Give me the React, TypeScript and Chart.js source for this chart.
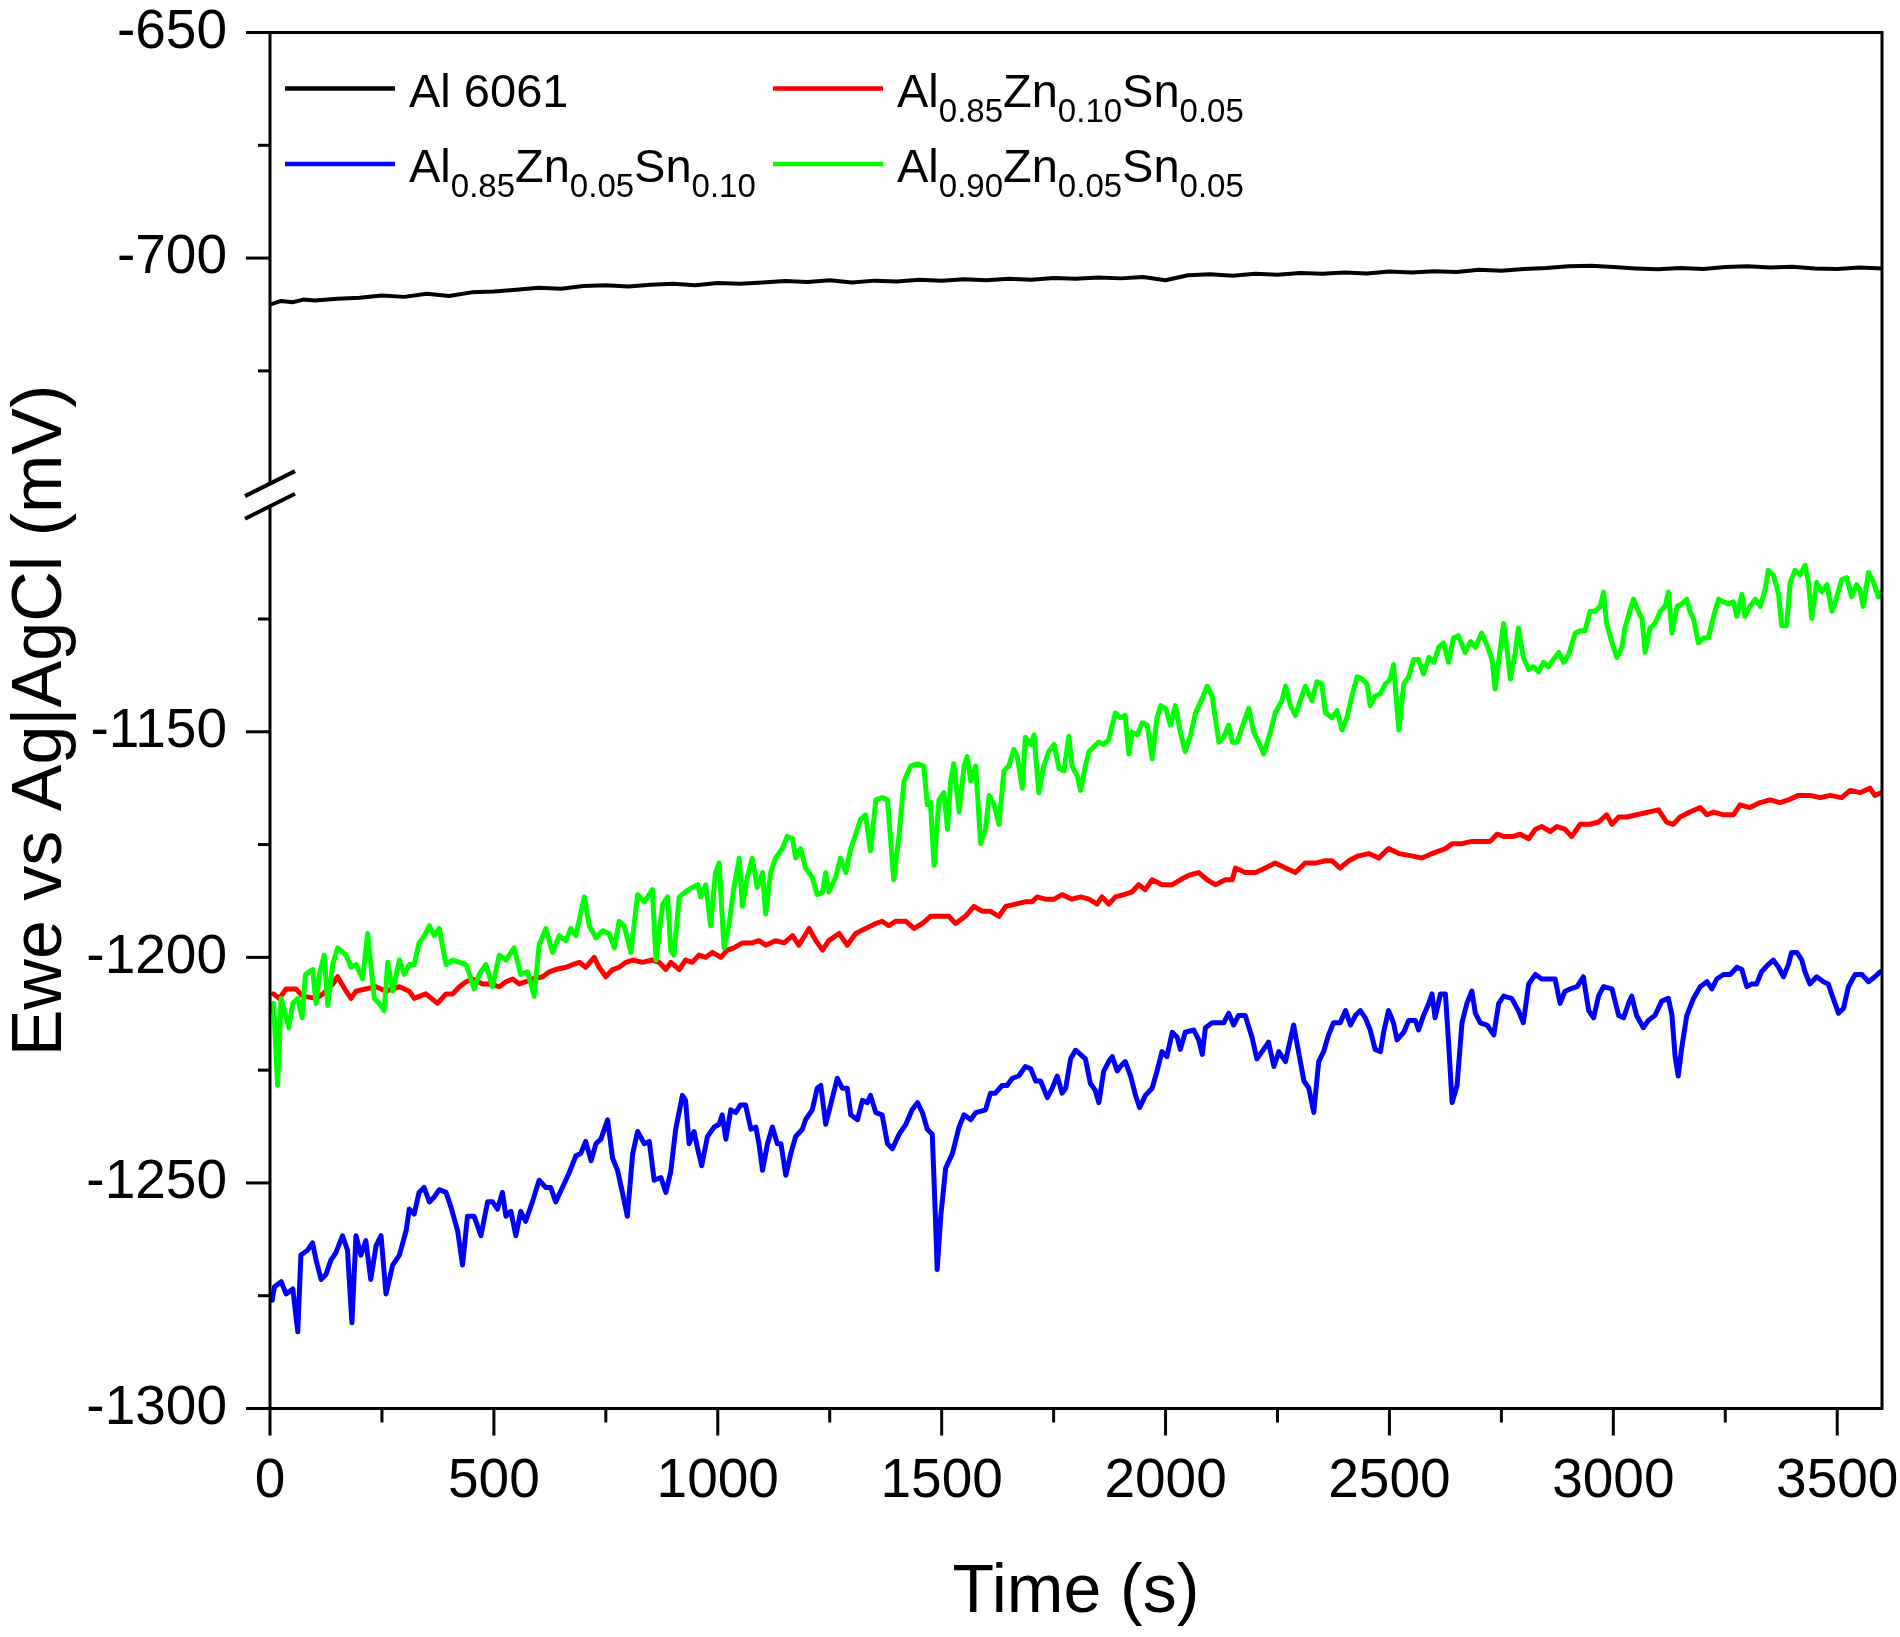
import React, { useEffect, useRef } from "react";
import { Chart, registerables } from "chart.js";

Chart.register(...registerables);

const FONT = "'Liberation Sans', Arial, Helvetica, sans-serif";

// ---- broken y axis: upper segment -650..-750, lower segment -1100..-1300
const UPPER_MIN = -750;
const LOWER_MAX = -1100;
const SHIFT = 345; // lower values shifted up so that -1100 sits just below -750 (small gap)
const toAxis = (v: number) => (v <= LOWER_MAX ? v + SHIFT : v);
const fromAxis = (a: number) => (a < UPPER_MIN ? a - SHIFT : a);

const yMajorTicks = [-650, -700, -1150, -1200, -1250, -1300];
const yMinorTicks = [-675, -725, -1125, -1175, -1225, -1275];
const xMajorTicks = [0, 500, 1000, 1500, 2000, 2500, 3000, 3500];
const xMinorTicks = [250, 750, 1250, 1750, 2250, 2750, 3250];
const X_MIN = 0;
const X_MAX = 3600;
const Y_AXIS_MIN = -1300;
const Y_AXIS_MAX = -650;

const xTitle = "Time (s)";
const yTitle = "Ewe vs Ag|AgCl (mV)";

// legend labels as [text, isSubscript] parts
const labelAl6061: [string, boolean][] = [["Al 6061", false]];
const labelRed: [string, boolean][] = [["Al", false], ["0.85", true], ["Zn", false], ["0.10", true], ["Sn", false], ["0.05", true]];
const labelBlue: [string, boolean][] = [["Al", false], ["0.85", true], ["Zn", false], ["0.05", true], ["Sn", false], ["0.10", true]];
const labelGreen: [string, boolean][] = [["Al", false], ["0.90", true], ["Zn", false], ["0.05", true], ["Sn", false], ["0.05", true]];

// ---- data: [time (s), potential (mV)]
const blackPoints: [number, number][] = [
  [0, -710.3], [25, -709.5], [50, -709.8], [75, -709.2], [100, -709.4], [150, -709.0], [200, -708.8], [250, -708.3], [300, -708.6], [350, -707.9],
  [400, -708.4], [450, -707.6], [500, -707.4], [550, -707.0], [600, -706.6], [650, -706.8], [700, -706.2], [750, -706.0], [800, -706.3], [850, -705.9],
  [900, -705.7], [950, -706.0], [1000, -705.5], [1050, -705.7], [1100, -705.4], [1150, -705.1], [1200, -705.3], [1250, -704.9], [1300, -705.4], [1350, -705.0],
  [1400, -705.2], [1450, -704.8], [1500, -705.0], [1550, -704.7], [1600, -704.9], [1650, -704.6], [1700, -704.8], [1750, -704.4], [1800, -704.6], [1850, -704.3],
  [1900, -704.5], [1950, -704.2], [2000, -704.9], [2050, -703.8], [2100, -703.6], [2150, -703.9], [2200, -703.5], [2250, -703.7], [2300, -703.3], [2350, -703.5],
  [2400, -703.2], [2450, -703.4], [2500, -703.0], [2550, -703.2], [2600, -702.9], [2650, -703.1], [2700, -702.6], [2750, -702.8], [2800, -702.4], [2850, -702.2],
  [2900, -701.8], [2950, -701.7], [3000, -702.0], [3050, -702.3], [3100, -702.5], [3150, -702.2], [3200, -702.4], [3250, -702.0], [3300, -701.8], [3350, -702.1],
  [3400, -701.9], [3450, -702.3], [3500, -702.4], [3550, -702.1], [3600, -702.3],
];

const redPoints: [number, number][] = [
  [8, -1208.1], [21, -1209.1], [36, -1207.0], [58, -1207.0], [73, -1208.6], [103, -1209.1], [118, -1208.1], [140, -1205.9], [151, -1204.3], [170, -1207.5],
  [181, -1209.1], [192, -1207.5], [214, -1207.0], [237, -1206.5], [259, -1207.5], [289, -1206.5], [311, -1207.5], [322, -1209.1], [348, -1208.1], [374, -1210.2],
  [393, -1208.1], [408, -1208.1], [423, -1206.5], [438, -1205.4], [452, -1204.8], [475, -1205.9], [490, -1205.9], [512, -1206.5], [527, -1205.4], [542, -1204.8],
  [557, -1205.9], [571, -1205.4], [586, -1204.8], [609, -1204.3], [624, -1203.2], [638, -1202.7], [661, -1202.2], [676, -1201.6], [691, -1201.1], [705, -1202.2],
  [724, -1200.0], [735, -1202.2], [750, -1204.3], [765, -1202.7], [780, -1202.2], [795, -1201.1], [810, -1200.6], [832, -1201.1], [854, -1200.6], [869, -1201.1],
  [884, -1202.7], [895, -1201.1], [914, -1202.7], [928, -1200.6], [943, -1201.1], [958, -1199.5], [973, -1200.0], [988, -1198.9], [1007, -1200.0], [1021, -1198.4],
  [1036, -1197.9], [1055, -1196.8], [1077, -1196.8], [1092, -1196.3], [1107, -1197.3], [1129, -1196.3], [1148, -1196.8], [1167, -1195.2], [1181, -1197.3], [1204, -1193.6],
  [1219, -1196.3], [1234, -1198.4], [1248, -1196.3], [1271, -1194.7], [1289, -1197.3], [1308, -1194.7], [1330, -1193.6], [1353, -1192.5], [1367, -1192.0], [1382, -1193.0],
  [1397, -1192.0], [1420, -1192.0], [1438, -1193.6], [1457, -1192.5], [1475, -1190.9], [1494, -1190.9], [1516, -1190.9], [1531, -1192.5], [1553, -1190.9], [1572, -1188.7],
  [1591, -1189.8], [1609, -1189.8], [1628, -1190.9], [1643, -1188.7], [1665, -1188.2], [1687, -1187.7], [1702, -1187.7], [1713, -1186.6], [1732, -1187.1], [1751, -1187.1],
  [1769, -1186.1], [1791, -1187.1], [1810, -1186.6], [1829, -1187.1], [1847, -1188.2], [1858, -1186.6], [1873, -1188.2], [1888, -1186.6], [1907, -1186.1], [1925, -1185.5],
  [1940, -1183.9], [1955, -1185.0], [1970, -1182.8], [1992, -1183.9], [2015, -1183.9], [2033, -1182.8], [2052, -1181.8], [2074, -1181.2], [2093, -1182.8], [2111, -1183.9],
  [2134, -1182.8], [2149, -1182.8], [2156, -1180.2], [2178, -1181.2], [2201, -1181.2], [2223, -1180.2], [2245, -1179.1], [2268, -1180.2], [2290, -1181.2], [2312, -1179.1],
  [2335, -1179.1], [2357, -1178.6], [2372, -1178.6], [2390, -1180.2], [2409, -1178.6], [2431, -1177.5], [2454, -1177.0], [2476, -1178.0], [2498, -1175.9], [2521, -1177.0],
  [2550, -1177.5], [2573, -1178.0], [2595, -1177.0], [2625, -1175.9], [2640, -1174.8], [2662, -1174.8], [2684, -1174.3], [2703, -1174.3], [2725, -1174.3], [2740, -1172.7],
  [2755, -1173.2], [2777, -1173.2], [2792, -1172.7], [2811, -1173.7], [2826, -1171.6], [2840, -1171.0], [2859, -1172.1], [2874, -1171.0], [2892, -1171.6], [2907, -1173.2],
  [2926, -1170.5], [2948, -1170.5], [2967, -1170.0], [2985, -1168.4], [2997, -1170.5], [3012, -1168.9], [3030, -1168.9], [3052, -1168.4], [3078, -1167.8], [3101, -1167.3],
  [3119, -1170.0], [3134, -1170.5], [3149, -1168.9], [3171, -1167.8], [3194, -1166.8], [3209, -1168.4], [3224, -1167.8], [3246, -1168.4], [3268, -1168.4], [3283, -1166.2],
  [3305, -1166.8], [3328, -1165.7], [3350, -1165.1], [3372, -1165.7], [3391, -1165.1], [3413, -1164.1], [3439, -1164.1], [3462, -1164.6], [3484, -1164.1], [3510, -1164.6],
  [3529, -1163.0], [3551, -1163.5], [3573, -1162.5], [3584, -1164.1], [3598, -1163.5],
];

const bluePoints: [number, number][] = [
  [5, -1276.0], [10, -1273.0], [25, -1271.9], [36, -1274.6], [51, -1273.5], [62, -1283.0], [69, -1266.0], [84, -1264.9], [95, -1263.3], [103, -1267.1],
  [114, -1271.4], [125, -1270.3], [136, -1267.1], [147, -1265.5], [162, -1261.7], [173, -1264.9], [183, -1281.0], [192, -1261.7], [203, -1266.0], [214, -1262.8],
  [225, -1271.4], [237, -1263.9], [248, -1261.7], [259, -1274.6], [274, -1268.2], [289, -1266.0], [304, -1260.6], [311, -1255.8], [322, -1256.9], [333, -1252.1],
  [344, -1251.0], [356, -1254.2], [367, -1253.1], [378, -1251.5], [393, -1252.1], [404, -1255.3], [419, -1260.6], [430, -1268.2], [441, -1257.4], [456, -1257.4],
  [471, -1261.7], [486, -1254.2], [497, -1254.2], [508, -1255.8], [519, -1252.1], [527, -1257.4], [538, -1256.3], [549, -1261.7], [560, -1256.3], [571, -1258.5],
  [586, -1254.2], [601, -1249.4], [616, -1251.0], [627, -1251.0], [638, -1254.2], [653, -1251.0], [668, -1247.8], [683, -1244.0], [694, -1243.5], [705, -1240.8],
  [717, -1245.1], [728, -1241.3], [739, -1240.3], [754, -1236.0], [765, -1244.5], [776, -1247.2], [787, -1252.1], [798, -1257.4], [810, -1243.5], [821, -1238.6],
  [836, -1241.3], [847, -1240.8], [858, -1249.4], [873, -1248.8], [884, -1252.1], [895, -1247.5], [906, -1238.1], [921, -1230.6], [928, -1231.7], [936, -1241.3],
  [947, -1238.6], [955, -1242.4], [964, -1246.2], [977, -1239.7], [992, -1237.6], [1003, -1237.0], [1010, -1234.9], [1018, -1240.3], [1029, -1233.8], [1040, -1234.4],
  [1051, -1232.7], [1062, -1232.7], [1074, -1238.1], [1085, -1237.6], [1092, -1241.3], [1100, -1247.2], [1111, -1241.3], [1122, -1237.6], [1133, -1241.3], [1141, -1241.3],
  [1152, -1248.3], [1163, -1243.5], [1174, -1239.7], [1189, -1238.1], [1196, -1236.0], [1211, -1233.8], [1222, -1229.0], [1230, -1228.4], [1241, -1237.0], [1252, -1232.7],
  [1267, -1226.8], [1278, -1229.0], [1289, -1229.0], [1297, -1234.9], [1312, -1236.0], [1323, -1231.7], [1334, -1232.2], [1341, -1230.6], [1353, -1234.4], [1367, -1234.9],
  [1379, -1241.3], [1390, -1242.4], [1405, -1239.2], [1420, -1237.0], [1434, -1233.8], [1446, -1232.2], [1457, -1234.4], [1468, -1238.1], [1479, -1239.2], [1486, -1257.4],
  [1490, -1269.2], [1498, -1257.4], [1509, -1246.7], [1524, -1243.5], [1539, -1237.6], [1550, -1234.9], [1565, -1236.0], [1576, -1234.4], [1598, -1233.8], [1609, -1230.1],
  [1620, -1230.1], [1635, -1228.4], [1646, -1228.4], [1658, -1226.8], [1672, -1226.3], [1687, -1224.2], [1699, -1224.7], [1710, -1227.4], [1721, -1227.4], [1736, -1231.1],
  [1747, -1229.0], [1758, -1226.3], [1769, -1230.1], [1777, -1229.0], [1788, -1222.5], [1799, -1220.6], [1810, -1221.5], [1821, -1222.5], [1832, -1227.9], [1843, -1229.5],
  [1851, -1232.2], [1862, -1225.2], [1873, -1223.1], [1881, -1222.0], [1892, -1225.2], [1899, -1224.2], [1910, -1223.1], [1922, -1226.3], [1933, -1230.6], [1942, -1233.3],
  [1955, -1230.6], [1970, -1229.0], [1981, -1225.2], [1992, -1220.9], [2003, -1222.0], [2015, -1216.6], [2026, -1217.7], [2033, -1220.4], [2044, -1216.6], [2063, -1216.1],
  [2074, -1218.3], [2082, -1221.5], [2089, -1215.6], [2104, -1214.5], [2119, -1214.5], [2130, -1214.5], [2141, -1212.4], [2152, -1215.0], [2163, -1212.9], [2178, -1212.9],
  [2193, -1217.7], [2204, -1222.5], [2219, -1220.4], [2230, -1218.8], [2242, -1224.2], [2253, -1220.9], [2268, -1223.1], [2275, -1219.9], [2286, -1215.0], [2297, -1220.9],
  [2309, -1227.4], [2320, -1229.0], [2331, -1234.4], [2342, -1223.1], [2353, -1220.9], [2364, -1217.2], [2375, -1214.5], [2390, -1214.5], [2402, -1211.8], [2413, -1215.0],
  [2424, -1212.9], [2435, -1211.8], [2446, -1213.4], [2457, -1216.1], [2468, -1220.4], [2480, -1220.9], [2487, -1216.6], [2498, -1211.8], [2509, -1214.5], [2517, -1218.3],
  [2532, -1216.6], [2543, -1214.0], [2558, -1214.0], [2565, -1216.1], [2576, -1212.9], [2588, -1210.2], [2595, -1208.1], [2602, -1213.4], [2614, -1208.1], [2625, -1208.1],
  [2632, -1218.8], [2640, -1232.2], [2651, -1228.4], [2662, -1214.5], [2673, -1210.2], [2684, -1207.5], [2692, -1212.4], [2703, -1214.5], [2718, -1215.0], [2733, -1217.2],
  [2744, -1210.2], [2755, -1208.6], [2773, -1209.1], [2788, -1211.8], [2799, -1214.5], [2811, -1205.9], [2826, -1203.8], [2840, -1204.8], [2859, -1204.8], [2870, -1204.8],
  [2881, -1210.2], [2892, -1207.5], [2904, -1207.0], [2919, -1206.5], [2933, -1204.3], [2945, -1211.8], [2956, -1213.4], [2967, -1208.6], [2978, -1206.5], [2997, -1207.0],
  [3012, -1212.9], [3023, -1213.4], [3034, -1210.2], [3041, -1208.6], [3052, -1212.9], [3067, -1215.6], [3078, -1214.0], [3093, -1212.9], [3108, -1209.7], [3123, -1209.1],
  [3131, -1212.9], [3138, -1222.0], [3145, -1226.3], [3153, -1219.9], [3164, -1212.9], [3179, -1209.1], [3194, -1206.5], [3209, -1205.4], [3220, -1207.0], [3231, -1204.8],
  [3246, -1203.8], [3261, -1203.8], [3276, -1202.2], [3287, -1202.7], [3298, -1206.5], [3309, -1205.9], [3320, -1205.9], [3331, -1203.2], [3346, -1201.6], [3357, -1200.6],
  [3369, -1202.2], [3380, -1204.3], [3391, -1201.6], [3398, -1198.9], [3410, -1198.9], [3421, -1200.6], [3428, -1203.2], [3439, -1205.9], [3454, -1204.3], [3469, -1205.4],
  [3480, -1205.9], [3491, -1209.1], [3503, -1212.4], [3514, -1211.3], [3525, -1206.5], [3540, -1203.8], [3555, -1203.8], [3570, -1205.4], [3584, -1204.3], [3596, -1203.2],
];

const greenPoints: [number, number][] = [
  [5, -1212.0], [8, -1210.2], [17, -1228.4], [25, -1209.1], [42, -1215.6], [51, -1210.2], [62, -1209.1], [72, -1213.4], [79, -1203.8], [95, -1202.7],
  [103, -1210.2], [110, -1203.8], [121, -1199.5], [129, -1210.7], [140, -1201.6], [151, -1197.9], [170, -1199.5], [181, -1202.2], [192, -1201.6], [207, -1204.8],
  [218, -1194.7], [233, -1209.1], [244, -1210.2], [255, -1211.8], [263, -1201.1], [274, -1207.5], [289, -1200.6], [300, -1203.8], [311, -1201.6], [322, -1201.6],
  [333, -1196.8], [345, -1195.2], [356, -1193.0], [367, -1195.2], [378, -1193.6], [393, -1201.6], [408, -1200.6], [423, -1201.1], [438, -1201.6], [456, -1207.0],
  [467, -1203.8], [482, -1201.6], [497, -1206.5], [512, -1199.5], [527, -1200.6], [545, -1197.9], [560, -1203.8], [575, -1203.2], [590, -1208.6], [601, -1197.3],
  [616, -1193.6], [631, -1198.9], [646, -1195.2], [661, -1196.3], [672, -1193.6], [683, -1195.2], [702, -1186.6], [713, -1193.0], [728, -1195.7], [743, -1194.1],
  [757, -1194.7], [769, -1197.9], [780, -1192.0], [791, -1193.0], [806, -1198.9], [821, -1186.1], [836, -1187.7], [854, -1185.0], [862, -1200.6], [877, -1188.2],
  [888, -1186.6], [895, -1198.4], [902, -1199.5], [914, -1186.6], [928, -1185.5], [943, -1184.5], [955, -1183.9], [962, -1186.6], [973, -1183.9], [984, -1193.0],
  [995, -1181.2], [1003, -1179.1], [1014, -1197.9], [1025, -1193.0], [1036, -1184.5], [1048, -1178.0], [1055, -1188.7], [1066, -1182.3], [1077, -1178.0], [1088, -1184.5],
  [1100, -1181.2], [1107, -1190.4], [1118, -1181.2], [1129, -1178.0], [1144, -1175.9], [1155, -1173.2], [1167, -1173.7], [1174, -1178.0], [1185, -1175.9], [1196, -1180.2],
  [1211, -1182.3], [1222, -1186.1], [1234, -1185.5], [1241, -1181.2], [1248, -1185.5], [1263, -1182.3], [1274, -1178.0], [1286, -1181.2], [1297, -1175.9], [1308, -1172.7],
  [1319, -1169.4], [1330, -1168.4], [1341, -1176.4], [1353, -1165.1], [1367, -1164.6], [1379, -1165.1], [1393, -1182.8], [1405, -1172.7], [1416, -1160.9], [1431, -1157.6],
  [1446, -1157.1], [1460, -1157.6], [1468, -1166.2], [1475, -1165.7], [1483, -1179.6], [1494, -1165.1], [1505, -1163.5], [1513, -1171.6], [1520, -1160.9], [1527, -1157.1],
  [1539, -1167.8], [1550, -1157.6], [1557, -1155.5], [1565, -1160.9], [1576, -1157.6], [1587, -1174.8], [1598, -1171.6], [1606, -1164.1], [1617, -1166.2], [1628, -1170.5],
  [1639, -1158.7], [1650, -1157.6], [1661, -1153.9], [1669, -1155.5], [1680, -1162.5], [1687, -1151.2], [1699, -1152.8], [1706, -1150.7], [1717, -1163.5], [1728, -1157.6],
  [1739, -1154.4], [1751, -1152.8], [1762, -1158.1], [1773, -1158.7], [1784, -1151.0], [1791, -1157.6], [1803, -1159.8], [1810, -1163.0], [1821, -1157.6], [1829, -1154.4],
  [1840, -1153.3], [1851, -1152.3], [1862, -1152.8], [1873, -1151.7], [1888, -1145.8], [1899, -1146.9], [1910, -1146.4], [1918, -1154.9], [1925, -1150.1], [1937, -1150.7],
  [1948, -1148.0], [1959, -1148.5], [1970, -1156.0], [1981, -1146.9], [1989, -1144.2], [2000, -1144.8], [2011, -1148.5], [2022, -1144.2], [2033, -1150.1], [2044, -1154.4],
  [2056, -1150.7], [2067, -1145.8], [2082, -1142.6], [2093, -1139.9], [2104, -1142.1], [2119, -1152.3], [2130, -1151.2], [2141, -1148.5], [2149, -1152.3], [2160, -1152.3],
  [2171, -1149.0], [2186, -1144.8], [2197, -1150.1], [2208, -1152.3], [2219, -1154.9], [2234, -1150.1], [2245, -1145.8], [2260, -1143.1], [2268, -1139.9], [2279, -1144.2],
  [2290, -1146.4], [2301, -1143.1], [2312, -1139.9], [2327, -1143.1], [2338, -1138.9], [2349, -1139.4], [2357, -1145.8], [2372, -1146.9], [2383, -1145.3], [2394, -1149.6],
  [2405, -1146.9], [2416, -1142.1], [2428, -1137.8], [2439, -1138.3], [2450, -1139.4], [2457, -1144.2], [2468, -1142.1], [2480, -1141.5], [2491, -1139.4], [2502, -1138.3],
  [2509, -1135.1], [2521, -1149.6], [2532, -1139.4], [2543, -1137.8], [2554, -1134.0], [2565, -1134.0], [2576, -1137.2], [2588, -1133.5], [2599, -1134.6], [2610, -1131.3],
  [2621, -1130.3], [2632, -1134.6], [2643, -1129.2], [2654, -1128.7], [2669, -1132.4], [2681, -1130.0], [2692, -1131.3], [2706, -1128.1], [2718, -1130.8], [2729, -1134.0],
  [2736, -1140.5], [2747, -1131.9], [2755, -1126.0], [2762, -1131.3], [2770, -1138.3], [2781, -1132.4], [2788, -1127.0], [2799, -1133.5], [2811, -1136.2], [2822, -1135.6],
  [2833, -1136.7], [2844, -1134.6], [2855, -1135.6], [2866, -1134.0], [2878, -1132.4], [2889, -1134.6], [2900, -1133.0], [2915, -1128.1], [2926, -1127.6], [2937, -1127.6],
  [2948, -1123.3], [2959, -1123.3], [2971, -1122.2], [2978, -1119.0], [2985, -1126.0], [2997, -1130.3], [3008, -1133.5], [3019, -1131.3], [3026, -1127.0], [3038, -1122.8],
  [3045, -1120.6], [3056, -1123.3], [3064, -1124.9], [3071, -1132.4], [3082, -1127.0], [3093, -1126.0], [3105, -1123.3], [3116, -1122.2], [3123, -1119.0], [3131, -1128.1],
  [3142, -1122.2], [3153, -1121.7], [3164, -1120.6], [3171, -1123.3], [3179, -1124.9], [3190, -1130.3], [3201, -1129.2], [3212, -1129.2], [3224, -1124.4], [3235, -1120.6],
  [3246, -1121.2], [3257, -1121.7], [3268, -1121.2], [3276, -1124.4], [3287, -1119.5], [3294, -1124.4], [3305, -1122.2], [3317, -1120.6], [3328, -1122.2], [3339, -1118.5],
  [3346, -1114.2], [3357, -1115.2], [3369, -1119.5], [3376, -1126.5], [3387, -1126.5], [3395, -1116.9], [3406, -1114.2], [3417, -1115.2], [3428, -1113.1], [3436, -1116.9],
  [3443, -1124.9], [3454, -1116.9], [3465, -1119.0], [3477, -1117.4], [3488, -1123.3], [3499, -1120.1], [3510, -1116.3], [3521, -1115.8], [3532, -1120.1], [3543, -1117.4],
  [3551, -1118.5], [3558, -1122.2], [3570, -1114.7], [3581, -1116.9], [3592, -1120.1], [3598, -1119.0],
];

type Rich = [string, boolean][];

function drawRich(ctx: CanvasRenderingContext2D, x: number, y: number, parts: Rich) {
  let cx = x;
  ctx.textAlign = "left";
  ctx.textBaseline = "alphabetic";
  for (const [text, sub] of parts) {
    ctx.font = `${sub ? 33 : 47}px ${FONT}`;
    ctx.fillText(text, cx, sub ? y + 15 : y);
    cx += ctx.measureText(text).width;
  }
}

const decorPlugin = {
  id: "decor",
  afterDraw(chart: any) {
    const { ctx, chartArea: a, scales } = chart;
    const xs = scales.x;
    const ys = scales.y;
    const yBreakTop = ys.getPixelForValue(toAxis(UPPER_MIN));
    const yBreakBot = ys.getPixelForValue(toAxis(LOWER_MAX));
    ctx.save();
    ctx.strokeStyle = "#000";
    ctx.fillStyle = "#000";
    ctx.lineWidth = 3;
    ctx.lineJoin = "miter";
    ctx.lineCap = "butt";
    // frame
    ctx.beginPath();
    ctx.moveTo(a.left, yBreakTop);
    ctx.lineTo(a.left, a.top);
    ctx.lineTo(a.right, a.top);
    ctx.lineTo(a.right, a.bottom);
    ctx.lineTo(a.left, a.bottom);
    ctx.lineTo(a.left, yBreakBot);
    ctx.stroke();
    // y ticks
    const yTick = (v: number, len: number) => {
      const p = ys.getPixelForValue(toAxis(v));
      ctx.beginPath();
      ctx.moveTo(a.left, p);
      ctx.lineTo(a.left - len, p);
      ctx.stroke();
    };
    yMajorTicks.forEach((v) => yTick(v, 24));
    yMinorTicks.forEach((v) => yTick(v, 12));
    // x ticks
    const xTick = (v: number, len: number) => {
      const p = xs.getPixelForValue(v);
      ctx.beginPath();
      ctx.moveTo(p, a.bottom);
      ctx.lineTo(p, a.bottom + len);
      ctx.stroke();
    };
    xMajorTicks.forEach((v) => xTick(v, 27));
    xMinorTicks.forEach((v) => xTick(v, 14));
    // break marks
    ctx.lineWidth = 4;
    [yBreakTop, yBreakBot].forEach((p) => {
      ctx.beginPath();
      ctx.moveTo(a.left - 25, p + 12.5);
      ctx.lineTo(a.left + 25, p - 12.5);
      ctx.stroke();
    });
    // legend
    const entries: { color: string; label: Rich; x: number; y: number }[] = [
      { color: "#000000", label: labelAl6061, x: 285, y: 88.5 },
      { color: "#ff0000", label: labelRed, x: 773, y: 88.5 },
      { color: "#0000ff", label: labelBlue, x: 285, y: 164 },
      { color: "#00ff00", label: labelGreen, x: 773, y: 164 },
    ];
    entries.forEach((e) => {
      ctx.strokeStyle = e.color;
      ctx.lineWidth = 4.5;
      ctx.beginPath();
      ctx.moveTo(e.x, e.y);
      ctx.lineTo(e.x + 110, e.y);
      ctx.stroke();
      ctx.fillStyle = "#000";
      drawRich(ctx, e.x + 124, e.y + 18, e.label);
    });
    // axis titles
    ctx.fillStyle = "#000";
    ctx.font = `68px ${FONT}`;
    ctx.textAlign = "center";
    ctx.textBaseline = "alphabetic";
    ctx.fillText(xTitle, (a.left + a.right) / 2, 1612);
    ctx.save();
    ctx.translate(61, (a.top + a.bottom) / 2);
    ctx.rotate(-Math.PI / 2);
    ctx.font = `70px ${FONT}`;
    ctx.fillText(yTitle, 0, 0);
    ctx.restore();
    ctx.restore();
  },
};

function mk(points: [number, number][], color: string, label: string, width: number) {
  return {
    label,
    data: points.map(([t, v]) => ({ x: t, y: toAxis(v) })),
    borderColor: color,
    backgroundColor: color,
    borderWidth: width,
    pointRadius: 0,
    tension: 0,
    fill: false,
  };
}

const zeroPadding = (s: any) => {
  s.paddingLeft = 0;
  s.paddingRight = 0;
  s.paddingTop = 0;
  s.paddingBottom = 0;
};

export default function App() {
  const canvasRef = useRef<HTMLCanvasElement | null>(null);

  useEffect(() => {
    document.body.style.margin = "0";
    const canvas = canvasRef.current;
    if (!canvas) return;
    const chart = new Chart(canvas, {
      type: "line",
      data: {
        datasets: [
          mk(greenPoints, "#00ff00", "Al0.90Zn0.05Sn0.05", 5),
          mk(bluePoints, "#0000ff", "Al0.85Zn0.05Sn0.10", 5),
          mk(redPoints, "#ff0000", "Al0.85Zn0.10Sn0.05", 5),
          mk(blackPoints, "#000000", "Al 6061", 4),
        ] as any,
      },
      options: {
        animation: false,
        responsive: false,
        events: [],
        layout: { padding: { top: 32.5, right: 18, left: 0, bottom: 0 } },
        plugins: {
          legend: { display: false },
          tooltip: { enabled: false },
          title: { display: false },
        },
        elements: {
          line: { borderJoinStyle: "round", borderCapStyle: "round" },
          point: { radius: 0 },
        },
        scales: {
          x: {
            type: "linear",
            min: X_MIN,
            max: X_MAX,
            afterBuildTicks: (s: any) => {
              s.ticks = [...xMajorTicks, ...xMinorTicks].sort((p, q) => p - q).map((v) => ({ value: v }));
            },
            afterFit: (s: any) => {
              s.height = 1637 - 1408.5;
              zeroPadding(s);
            },
            ticks: {
              autoSkip: false,
              maxRotation: 0,
              minRotation: 0,
              padding: 40,
              color: "#000",
              font: { family: FONT, size: 55 },
              callback: (v: any) => (xMajorTicks.includes(Number(v)) ? String(v) : ""),
            },
            grid: { display: false, drawTicks: false },
            border: { display: false },
          },
          y: {
            type: "linear",
            min: toAxis(Y_AXIS_MIN),
            max: toAxis(Y_AXIS_MAX),
            afterBuildTicks: (s: any) => {
              s.ticks = [...yMajorTicks, ...yMinorTicks].map((v) => toAxis(v)).sort((p, q) => p - q).map((v) => ({ value: v }));
            },
            afterFit: (s: any) => {
              s.width = 270;
              zeroPadding(s);
            },
            ticks: {
              autoSkip: false,
              padding: 43,
              color: "#000",
              font: { family: FONT, size: 55 },
              callback: (v: any) => {
                const real = fromAxis(Number(v));
                return yMajorTicks.includes(real) ? String(real) : "";
              },
            },
            grid: { display: false, drawTicks: false },
            border: { display: false },
          },
        },
      } as any,
      plugins: [decorPlugin],
    });
    return () => chart.destroy();
  }, []);

  return (
    <div style={{ width: 1900, height: 1637, background: "#fff" }}>
      <canvas ref={canvasRef} width={1900} height={1637} style={{ display: "block" }} />
    </div>
  );
}
